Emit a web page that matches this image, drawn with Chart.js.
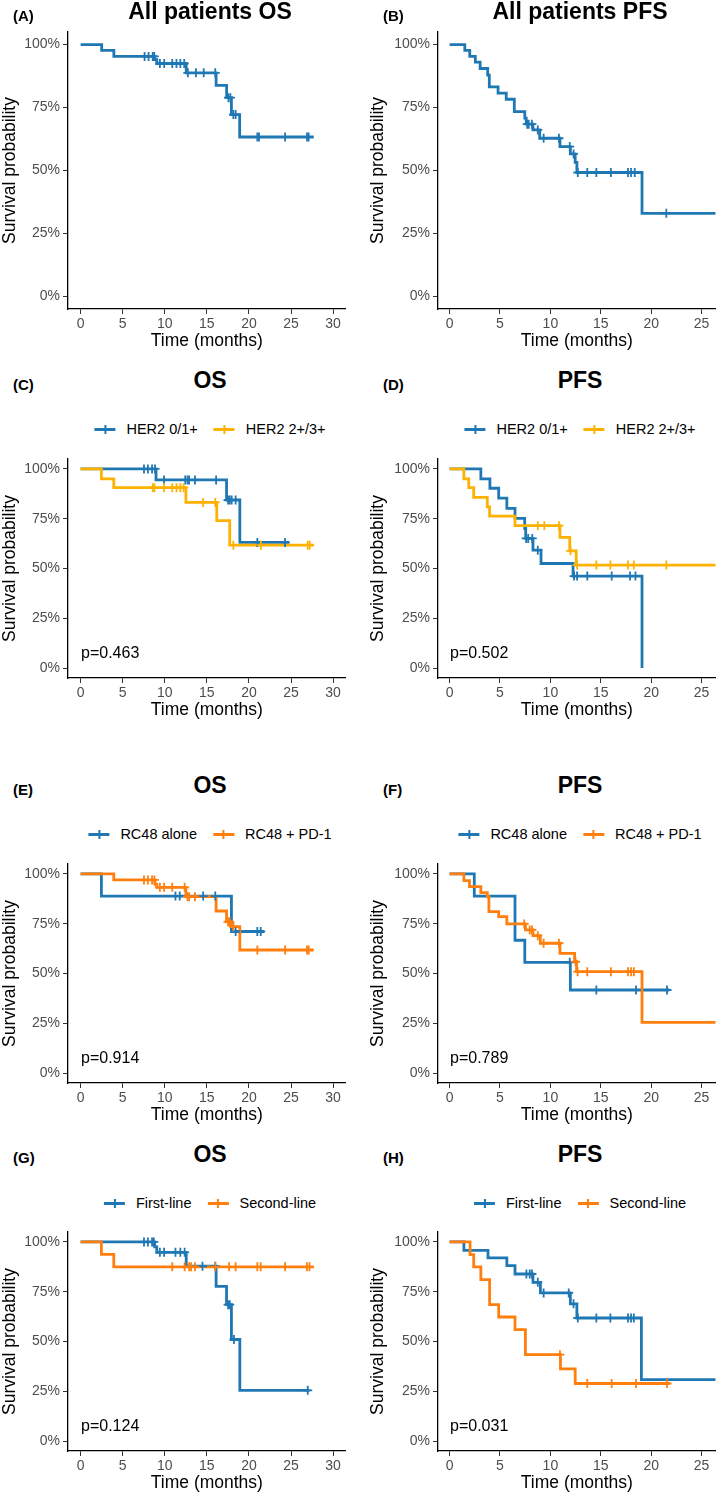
<!DOCTYPE html>
<html>
<head>
<meta charset="utf-8">
<script src="https://cdn.jsdelivr.net/npm/chart.js@4.4.1/dist/chart.umd.min.js"></script>
<style>
  html, body { margin: 0; padding: 0; background: #fff; }
  body { position: relative; width: 722px; height: 1496px; overflow: hidden;
         font-family: 'Liberation Sans', Arial, sans-serif; }
  canvas { position: absolute; }
  .title { position: absolute; font-weight: bold; font-size: 23px; line-height: 26px;
           color: #000; white-space: nowrap; transform: translateX(-50%); }
  .tag { position: absolute; font-weight: bold; font-size: 15px; line-height: 18px; color: #000; }
  .pval { position: absolute; font-size: 16px; line-height: 18px; color: #000; white-space: nowrap; }
  .legend { position: absolute; display: flex; align-items: center; font-size: 14.5px;
            line-height: 16px; color: #000; white-space: nowrap; transform: translateX(-50%); }
  .sym { display: inline-block; position: relative; width: 21px; height: 3px;
         background: currentColor; margin-right: 11px; }
  .sym::after { content: ''; position: absolute; left: 9.5px; top: -3px; width: 2px;
                height: 9px; background: currentColor; }
  .lab { margin-right: 16px; }
  .lab:last-child { margin-right: 0; }
</style>
</head>
<body>
<script>
// ---- data (time in months, survival probability) ----
var osTicks = [0, 5, 10, 15, 20, 25, 30];
var pfsTicks = [0, 5, 10, 15, 20, 25];
var yTicks = [0, 0.25, 0.5, 0.75, 1];

// (A) all patients OS
var aTime = [0, 2.5, 3.95, 8.8, 9.05, 12.55, 16.1, 17.35, 17.92, 18.9, 27.7];
var aSurv = [1, 0.977, 0.953, 0.94, 0.925, 0.888, 0.838, 0.789, 0.722, 0.633, 0.633];
var aCens = [7.6, 8.07, 8.57, 8.75, 9.42, 9.93, 10.89, 11.39, 11.85, 12.31, 12.74, 13.7, 14.63, 16.0, 17.57, 17.8, 18.15, 18.42, 21.0, 21.2, 24.3, 26.9, 27.1];

// (B) all patients PFS
var bTime = [0, 1.51, 2.0, 2.55, 3.03, 3.78, 3.94, 4.81, 5.62, 6.42, 7.46, 7.6, 8.27, 8.94, 10.95, 11.98, 12.46, 12.63, 19.09, 26.4];
var bSurv = [1, 0.977, 0.953, 0.93, 0.905, 0.879, 0.832, 0.807, 0.783, 0.734, 0.708, 0.684, 0.661, 0.628, 0.595, 0.566, 0.532, 0.492, 0.33, 0.33];
var bCens = [7.7, 7.85, 8.17, 8.75, 9.33, 10.85, 11.92, 12.3, 12.72, 13.66, 14.56, 16.0, 17.7, 18.0, 18.37, 21.5];

// (C) OS by HER2
var cLowTime = [0, 8.96, 17.34, 18.92, 24.8];
var cLowSurv = [1, 0.945, 0.844, 0.631, 0.631];
var cLowCens = [7.53, 7.99, 8.49, 8.84, 9.92, 12.43, 12.7, 12.89, 13.59, 16.1, 17.52, 17.72, 17.95, 18.42, 21.0, 24.29];
var cHighTime = [0, 2.47, 3.94, 12.51, 16.18, 17.72, 27.7];
var cHighSurv = [1, 0.95, 0.906, 0.832, 0.74, 0.617, 0.617];
var cHighCens = [8.57, 8.77, 9.92, 10.89, 11.39, 11.85, 12.24, 14.56, 16.0, 18.15, 21.43, 26.99, 27.22];

// (D) PFS by HER2
var dLowTime = [0, 3.1, 4.0, 4.87, 5.68, 6.49, 7.45, 7.55, 8.27, 9.07, 12.25, 19.09];
var dLowSurv = [1, 0.95, 0.903, 0.853, 0.802, 0.752, 0.702, 0.651, 0.592, 0.525, 0.462, 0];
var dLowCens = [7.6, 7.8, 8.2, 8.75, 12.35, 12.65, 13.66, 16.08, 17.9, 18.44];
var dHighTime = [0, 1.42, 1.9, 2.39, 3.74, 3.97, 6.49, 10.95, 11.92, 12.56, 26.4];
var dHighSurv = [1, 0.95, 0.906, 0.857, 0.81, 0.763, 0.715, 0.656, 0.589, 0.517, 0.517];
var dHighCens = [8.75, 9.4, 10.85, 12.0, 12.65, 14.56, 15.95, 17.7, 18.28, 21.5];

// (E) OS by treatment
var eAloneTime = [0, 2.47, 17.92, 21.8];
var eAloneSurv = [1, 0.889, 0.711, 0.711];
var eAloneCens = [11.27, 11.78, 14.56, 16.0, 18.42, 21.0, 21.4];
var ePd1Time = [0, 3.94, 8.84, 9.05, 12.51, 16.1, 17.34, 17.9, 18.92, 27.7];
var ePd1Surv = [1, 0.97, 0.948, 0.933, 0.886, 0.814, 0.76, 0.735, 0.618, 0.618];
var ePd1Cens = [7.53, 7.99, 8.49, 8.77, 9.42, 9.92, 10.89, 12.36, 12.7, 12.9, 13.59, 17.52, 17.72, 18.15, 21.0, 24.3, 26.9, 27.1];

// (F) PFS by treatment
var fAloneTime = [0, 2.45, 6.49, 7.46, 11.98, 21.8];
var fAloneSurv = [1, 0.889, 0.667, 0.556, 0.417, 0.417];
var fAloneCens = [11.92, 14.56, 18.5, 21.57];
var fPd1Time = [0, 1.42, 1.97, 3.1, 3.74, 3.9, 4.87, 5.68, 7.52, 8.27, 9.0, 10.95, 12.4, 12.6, 19.09, 26.4];
var fPd1Surv = [1, 0.966, 0.936, 0.906, 0.886, 0.811, 0.786, 0.749, 0.719, 0.69, 0.652, 0.601, 0.559, 0.509, 0.255, 0.255];
var fPd1Cens = [7.4, 7.95, 8.17, 8.75, 9.33, 10.85, 12.5, 12.7, 13.66, 16.0, 17.7, 18.0, 18.28];

// (G) OS by line of therapy
var gFirstTime = [0, 8.8, 9.05, 12.55, 16.1, 17.34, 17.92, 18.92, 27.2];
var gFirstSurv = [1, 0.975, 0.948, 0.878, 0.777, 0.685, 0.51, 0.255, 0.255];
var gFirstCens = [7.53, 7.99, 8.49, 8.7, 9.42, 9.92, 11.27, 11.85, 12.36, 14.48, 16.0, 17.52, 17.72, 18.22, 26.99];
var gSecondTime = [0, 2.47, 3.94, 27.7];
var gSecondSurv = [1, 0.9375, 0.875, 0.875];
var gSecondCens = [10.89, 12.36, 12.9, 13.13, 13.59, 16.0, 17.65, 18.42, 21.0, 21.4, 24.3, 26.9, 27.2];

// (H) PFS by line of therapy
var hFirstTime = [0, 1.42, 3.81, 5.68, 6.49, 8.27, 9.01, 11.98, 12.63, 19.03, 26.4];
var hFirstSurv = [1, 0.958, 0.92, 0.881, 0.839, 0.797, 0.744, 0.689, 0.618, 0.309, 0.309];
var hFirstCens = [7.62, 7.95, 8.17, 8.75, 9.33, 11.82, 12.3, 12.72, 14.56, 15.95, 17.7, 18.0, 18.28];
var hSecondTime = [0, 2.03, 2.39, 3.1, 3.97, 4.87, 6.49, 7.52, 11.0, 12.46, 21.83];
var hSecondSurv = [1, 0.936, 0.875, 0.811, 0.685, 0.623, 0.56, 0.434, 0.362, 0.289, 0.289];
var hSecondCens = [10.95, 13.66, 16.08, 18.5, 21.57];

// ---- layout ----
var BLUE = '#1F77B4', YELLOW = '#FDB100', ORANGE = '#FF7F0E';
var PAD_TOP = 14, X_AXIS_H = 44;

var rows = [
  { plotTop: 32,   plotH: 277, titleY: 11,     tagY: 16 },
  { plotTop: 459,  plotH: 219, titleY: 380,    tagY: 385,  legendY: 429 },
  { plotTop: 864,  plotH: 219, titleY: 785,    tagY: 790,  legendY: 834 },
  { plotTop: 1232, plotH: 219, titleY: 1153.5, tagY: 1158, legendY: 1203 }
];
var cols = [
  { left: 0,   width: 352, axisW: 68, xMin: -1.5,  xMax: 31.5, ticks: osTicks,  tagX: 13,  centerX: 210, pX: 81 },
  { left: 368, width: 354, axisW: 70, xMin: -1.15, xMax: 26.4, ticks: pfsTicks, tagX: 383, centerX: 580, pX: 450 }
];

var panels = [
  { tag: '(A)', title: 'All patients OS', row: 0, col: 0,
    series: [{ time: aTime, surv: aSurv, cens: aCens, color: BLUE }] },
  { tag: '(B)', title: 'All patients PFS', row: 0, col: 1,
    series: [{ time: bTime, surv: bSurv, cens: bCens, color: BLUE }] },
  { tag: '(C)', title: 'OS', row: 1, col: 0, p: 'p=0.463',
    series: [{ name: 'HER2 0/1+', time: cLowTime, surv: cLowSurv, cens: cLowCens, color: BLUE },
             { name: 'HER2 2+/3+', time: cHighTime, surv: cHighSurv, cens: cHighCens, color: YELLOW }] },
  { tag: '(D)', title: 'PFS', row: 1, col: 1, p: 'p=0.502',
    series: [{ name: 'HER2 0/1+', time: dLowTime, surv: dLowSurv, cens: dLowCens, color: BLUE },
             { name: 'HER2 2+/3+', time: dHighTime, surv: dHighSurv, cens: dHighCens, color: YELLOW }] },
  { tag: '(E)', title: 'OS', row: 2, col: 0, p: 'p=0.914',
    series: [{ name: 'RC48 alone', time: eAloneTime, surv: eAloneSurv, cens: eAloneCens, color: BLUE },
             { name: 'RC48 + PD-1', time: ePd1Time, surv: ePd1Surv, cens: ePd1Cens, color: ORANGE }] },
  { tag: '(F)', title: 'PFS', row: 2, col: 1, p: 'p=0.789',
    series: [{ name: 'RC48 alone', time: fAloneTime, surv: fAloneSurv, cens: fAloneCens, color: BLUE },
             { name: 'RC48 + PD-1', time: fPd1Time, surv: fPd1Surv, cens: fPd1Cens, color: ORANGE }] },
  { tag: '(G)', title: 'OS', row: 3, col: 0, p: 'p=0.124',
    series: [{ name: 'First-line', time: gFirstTime, surv: gFirstSurv, cens: gFirstCens, color: BLUE },
             { name: 'Second-line', time: gSecondTime, surv: gSecondSurv, cens: gSecondCens, color: ORANGE }] },
  { tag: '(H)', title: 'PFS', row: 3, col: 1, p: 'p=0.031',
    series: [{ name: 'First-line', time: hFirstTime, surv: hFirstSurv, cens: hFirstCens, color: BLUE },
             { name: 'Second-line', time: hSecondTime, surv: hSecondSurv, cens: hSecondCens, color: ORANGE }] }
];

// survival at time t from the step curve
function stepValue(times, surv, t) {
  var v = surv[0];
  for (var i = 0; i < times.length; i++) if (times[i] <= t) v = surv[i];
  return v;
}

function addText(cls, text, x, y) {
  var d = document.createElement('div');
  d.className = cls;
  d.textContent = text;
  d.style.left = x + 'px';
  d.style.top = y + 'px';
  document.body.appendChild(d);
  return d;
}

var tickFont = { family: "'Liberation Sans', Arial, sans-serif", size: 14 };
var axisTitleFont = { family: "'Liberation Sans', Arial, sans-serif", size: 17.5 };

function makePanel(p) {
  var row = rows[p.row], col = cols[p.col];
  var cv = document.createElement('canvas');
  cv.width = col.width;
  cv.height = PAD_TOP + row.plotH + X_AXIS_H;
  cv.style.left = col.left + 'px';
  cv.style.top = (row.plotTop - PAD_TOP) + 'px';
  document.body.appendChild(cv);

  var datasets = [];
  p.series.forEach(function (s, i) {
    datasets.push({
      type: 'line',
      data: s.time.map(function (t, k) { return { x: t, y: s.surv[k] }; }),
      stepped: 'before',
      borderColor: s.color,
      borderWidth: 2.8,
      pointRadius: 0,
      fill: false,
      order: 4 - i
    });
    datasets.push({
      type: 'scatter',
      data: s.cens.map(function (t) { return { x: t, y: stepValue(s.time, s.surv, t) }; }),
      pointStyle: 'cross',
      pointRadius: 4.5,
      borderColor: s.color,
      backgroundColor: s.color,
      borderWidth: 1.8,
      pointBorderWidth: 1.8,
      order: 2 - i
    });
  });

  new Chart(cv, {
    type: 'line',
    data: { datasets: datasets },
    options: {
      responsive: false,
      animation: false,
      devicePixelRatio: 1,
      layout: { padding: { top: PAD_TOP, left: 0, right: 0, bottom: 0 } },
      plugins: { legend: { display: false }, tooltip: { enabled: false }, title: { display: false } },
      scales: {
        x: {
          type: 'linear',
          min: col.xMin,
          max: col.xMax,
          afterBuildTicks: function (s) { s.ticks = col.ticks.map(function (v) { return { value: v }; }); },
          afterFit: function (s) { s.height = X_AXIS_H; },
          ticks: { font: tickFont, color: '#4D4D4D', padding: 2, maxRotation: 0, autoSkip: false },
          grid: { drawOnChartArea: false, tickLength: 5, tickColor: '#333', tickWidth: 1 },
          border: { color: '#000', width: 1.3 },
          title: { display: true, text: 'Time (months)', font: axisTitleFont, color: '#000',
                   padding: { top: 0, bottom: 1 } }
        },
        y: {
          type: 'linear',
          min: -0.05,
          max: 1.05,
          afterBuildTicks: function (s) { s.ticks = yTicks.map(function (v) { return { value: v }; }); },
          afterFit: function (s) { s.width = col.axisW; },
          ticks: { font: tickFont, color: '#4D4D4D', padding: 3,
                   callback: function (v) { return Math.round(v * 100) + '%'; } },
          grid: { drawOnChartArea: false, tickLength: 5, tickColor: '#333', tickWidth: 1 },
          border: { color: '#000', width: 1.3 },
          title: { display: true, text: 'Survival probability', font: axisTitleFont, color: '#000', padding: 0 }
        }
      }
    }
  });

  // panel tag, title, legend, p-value
  addText('tag', p.tag, col.tagX, row.tagY - 9);
  addText('title', p.title, col.centerX, row.titleY - 13);
  if (p.series.length > 1) {
    var lg = document.createElement('div');
    lg.className = 'legend';
    lg.style.left = col.centerX + 'px';
    lg.style.top = (row.legendY - 8) + 'px';
    p.series.forEach(function (s) {
      var sym = document.createElement('span');
      sym.className = 'sym';
      sym.style.color = s.color;
      var lab = document.createElement('span');
      lab.className = 'lab';
      lab.textContent = s.name;
      lg.appendChild(sym);
      lg.appendChild(lab);
    });
    document.body.appendChild(lg);
  }
  if (p.p) addText('pval', p.p, col.pX, row.plotTop + row.plotH - 25 - 9);
}

panels.forEach(makePanel);
</script>
</body>
</html>
